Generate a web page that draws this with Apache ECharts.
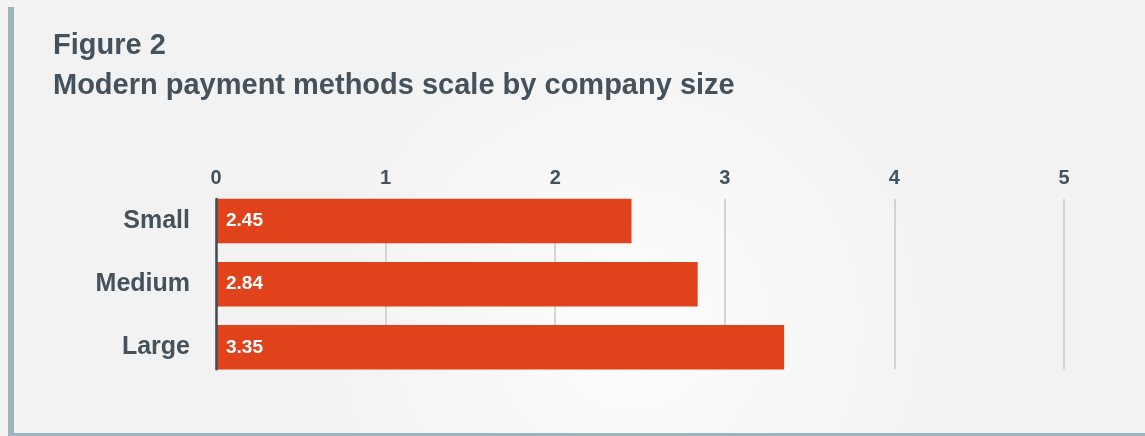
<!DOCTYPE html>
<html>
<head>
<meta charset="utf-8">
<script src="https://cdn.jsdelivr.net/npm/echarts@6/dist/echarts.min.js"></script>
<style>
  html, body { margin: 0; padding: 0; background: #f3f3f3; }
  #chart { width: 1145px; height: 436px; }
</style>
</head>
<body>
<div id="chart"></div>
<script>
// Figure data
const figureLabel = 'Figure 2';
const figureTitle = 'Modern payment methods scale by company size';
const categories = ['Small', 'Medium', 'Large'];
const scores = [2.45, 2.84, 3.35];
const axisMin = 0;
const axisMax = 5;
const axisStep = 1;

const textColor = '#45525b';
const barColor = '#e0421c';
const frameColor = '#9db3bd';
const fontFamily = '"Liberation Sans", Arial, Helvetica, sans-serif';

const chart = echarts.init(document.getElementById('chart'), null, { renderer: 'canvas' });

const plotLeft = 216;
const plotWidth = 848;

chart.setOption({
  backgroundColor: {
    type: 'radial', x: 0.55, y: 0.75, r: 0.75,
    colorStops: [
      { offset: 0, color: '#fdfdfd' },
      { offset: 1, color: '#f2f2f2' }
    ]
  },
  animation: false,
  textStyle: { fontFamily: fontFamily },
  title: [
    {
      text: figureLabel, left: 48, top: 26.5,
      textStyle: { fontSize: 29, fontWeight: 'bold', color: textColor, fontFamily: fontFamily }
    },
    {
      text: figureTitle, left: 48, top: 66,
      textStyle: { fontSize: 29, fontWeight: 'bold', color: textColor, fontFamily: fontFamily }
    }
  ],
  graphic: [
    // left accent rule and bottom rule of the figure frame
    { type: 'rect', shape: { x: 8, y: 7, width: 6, height: 429 }, style: { fill: frameColor }, z: 10 },
    { type: 'rect', shape: { x: 8, y: 433, width: 1137, height: 3 }, style: { fill: frameColor }, z: 10 }
  ],
  grid: [
    // scale grid: spans from top of first bar to bottom of last bar
    { left: plotLeft, width: plotWidth, top: 199, height: 170.3 },
    // bar grid: category bands
    { left: plotLeft, width: plotWidth, top: 189.5, height: 189.4 }
  ],
  xAxis: [
    {
      gridIndex: 0, type: 'value', position: 'top',
      min: axisMin, max: axisMax, interval: axisStep,
      axisLine: { show: false }, axisTick: { show: false },
      axisLabel: { color: textColor, fontSize: 20, fontWeight: 'bold', margin: 11, fontFamily: fontFamily },
      splitLine: { show: true, lineStyle: { color: '#c9c9c9', width: 1.5 } }
    },
    {
      gridIndex: 1, type: 'value', min: axisMin, max: axisMax, show: false
    }
  ],
  yAxis: [
    {
      gridIndex: 0, type: 'value', min: 0, max: 1, z: 5,
      axisLine: { show: true, lineStyle: { color: '#434d55', width: 2.5 } },
      axisTick: { show: false }, axisLabel: { show: false }, splitLine: { show: false }
    },
    {
      gridIndex: 1, type: 'category', data: categories, inverse: true,
      axisLine: { show: false }, axisTick: { show: false },
      axisLabel: { color: textColor, fontSize: 25, fontWeight: 'bold', margin: 26, fontFamily: fontFamily }
    }
  ],
  series: [
    {
      type: 'bar', xAxisIndex: 1, yAxisIndex: 1,
      data: scores, barWidth: '70.4%',
      itemStyle: { color: barColor },
      label: {
        show: true, position: 'insideLeft', distance: 10,
        color: '#ffffff', fontSize: 19, fontWeight: 'bold', fontFamily: fontFamily,
        formatter: p => p.value.toFixed(2)
      }
    }
  ]
});
</script>
</body>
</html>
